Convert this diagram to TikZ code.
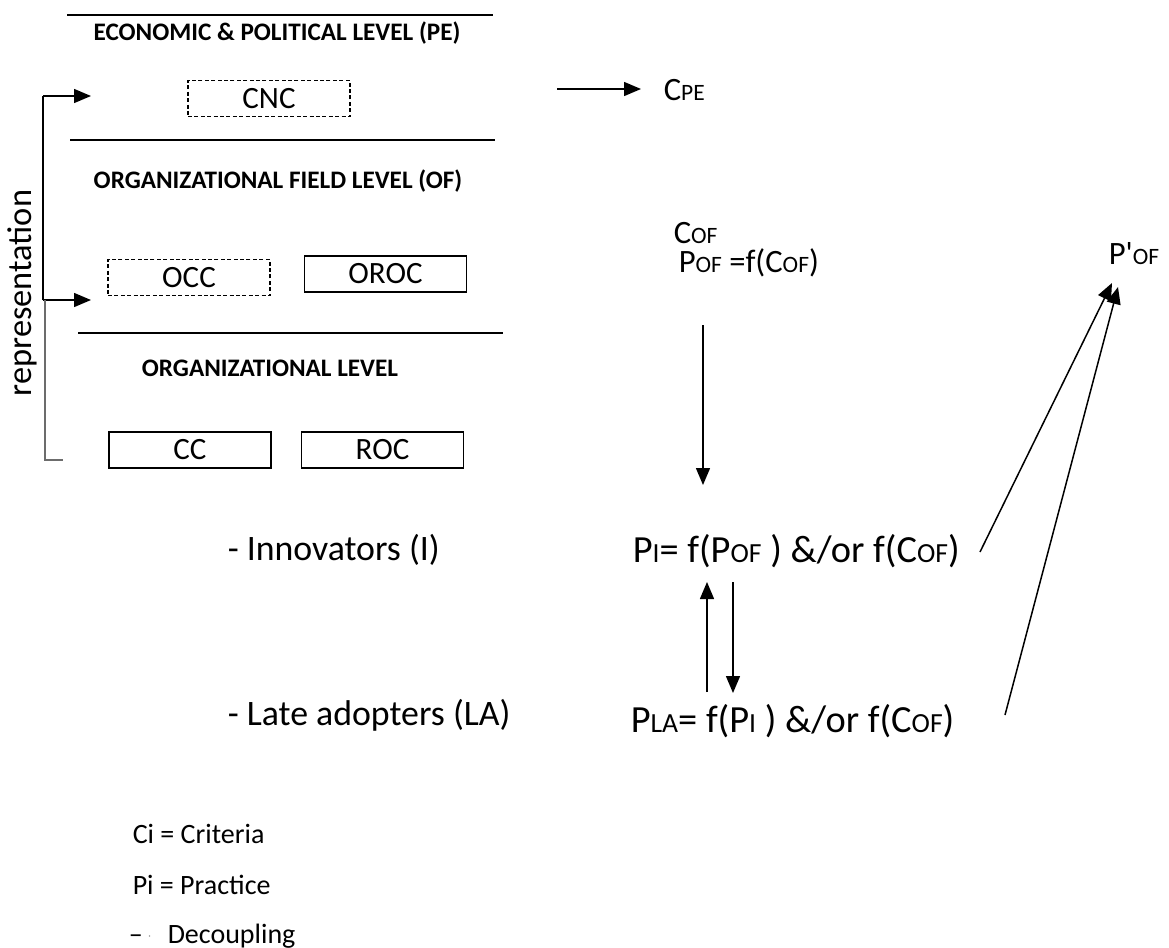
\documentclass[tikz,border=0pt]{standalone}
\usepackage{fontspec}
\setmainfont{Carlito}
\usetikzlibrary{arrows.meta}
\makeatletter
\newcommand\fsc[1]{{\fontsize{\fpeval{0.72*\f@size}}{0}\selectfont #1}}
\makeatother
\newcommand\fs[1]{\fontsize{#1}{#1}\selectfont}
\begin{document}
\begin{tikzpicture}[x=0.5pt,y=-0.5pt, line width=0.75pt,
  heading/.style={font=\fs{12.6}\bfseries, inner sep=0},
  boxs/.style={draw, minimum width=81pt, minimum height=18pt, inner sep=0, font=\fs{15.5}},
  dbox/.style={boxs, dash pattern=on 2pt off 1.2pt},
  lbl/.style={inner sep=0, anchor=base west},
  arr/.style={-{Triangle[length=8.5pt,width=7pt]}},
  rulel/.style={line width=0.75pt}]
\useasboundingbox (0,0) rectangle (1169,948);

% level rules
\draw[rulel] (67,15) -- (493,15);
\draw[rulel] (70,140) -- (495,140);
\draw[rulel] (78,333) -- (503,333);

% headings
\node[heading] (hPE) at (277,33) {ECONOMIC \& POLITICAL LEVEL (PE)};
\node[heading] (hOF) at (278,181) {ORGANIZATIONAL FIELD LEVEL (OF)};
\node[heading] (hOL) at (270,368) {ORGANIZATIONAL LEVEL};

% boxes
\node[dbox] (cnc) at (269,98.5) {CNC};
\node[dbox] (occ) at (189,277.5) {OCC};
\node[boxs] (oroc) at (385.5,274) {OROC};
\node[boxs] (cc) at (190,450) {CC};
\node[boxs] (roc) at (382.5,450) {ROC};

% representation bracket
\coordinate (rtop) at (43,96);
\coordinate (rmid) at (43,300);
\coordinate (rbot) at (45,460);
\coordinate (rtick) at (63,460);
\coordinate (rpe) at (91,96);
\coordinate (rof) at (91,300);
\draw (rmid) -- (rtop);
\draw[arr] (rtop) -- (rpe);
\draw[arr] (rmid) -- (rof);
\draw[gray!85!black] (45,300) -- (rbot) -- (rtick);
\node[inner sep=0, rotate=90, font=\fs{17.2}] (rep) at (22,293) {representation};

% CPE
\coordinate (cpestart) at (557,89);
\coordinate (cpeend) at (641,89);
\node[lbl, font=\fs{16.3}] (cpe) at (663,100) {C\fsc{PE}};
\draw[arr] (cpestart) -- (cpeend);
% right side formulas
\node[lbl, font=\fs{16.3}] (cof) at (673,243) {C\fsc{OF}};
\node[lbl, font=\fs{16.3}] (pof) at (678,272) {P\fsc{OF} =f(C\fsc{OF})};
\node[lbl, font=\fs{16.3}] (ppof) at (1108,264) {P\textquotesingle\fsc{OF}};
\node[lbl, font=\fs{19.2}] (pi) at (632,562) {P\fsc{I}= f(P\fsc{OF} ) \&/or f(C\fsc{OF})};
\node[lbl, font=\fs{19.2}] (pla) at (630,732) {P\fsc{LA}= f(P\fsc{I} ) \&/or f(C\fsc{OF})};

% left labels
\node[lbl, font=\fs{17.9}] (innov) at (227,560) {- Innovators (I)};
\node[lbl, font=\fs{17.9}] (late) at (227,725) {- Late adopters (LA)};

% legend
\node[lbl, font=\fs{14}] (lc) at (132,843) {Ci = Criteria};
\node[lbl, font=\fs{14}] (lp) at (132,894) {Pi = Practice};
\node[lbl, font=\fs{14}] (ldash) at (128,943) {\textendash\,\textcolor{gray}{\raisebox{0.25ex}{\fs{6}$\cdot$}}};
\node[lbl, font=\fs{14}] (ld) at (167,943) {Decoupling};

% arrows right
\coordinate (a1s) at (703,325);
\coordinate (a1e) at (703,485);
\draw[arr] (a1s) -- (a1e);
\coordinate (a2s) at (707,692);
\coordinate (a2e) at (707,582);
\draw[arr] (a2s) -- (a2e);
\coordinate (a3s) at (733,582);
\coordinate (a3e) at (733,693);
\draw[arr] (a3s) -- (a3e);
\coordinate (d1s) at (980,552);
\coordinate (d1e) at (1112,283);
\draw[arr] (d1s) -- (d1e);
\coordinate (d2s) at (1005,715);
\coordinate (d2e) at (1118,287);
\draw[arr] (d2s) -- (d2e);
\end{tikzpicture}
\end{document}
